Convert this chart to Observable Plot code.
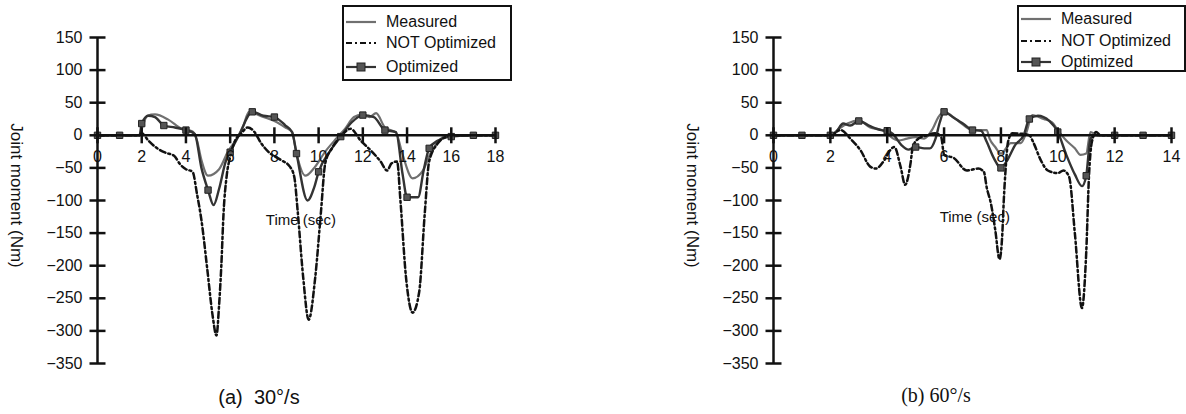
<!DOCTYPE html>
<html><head><meta charset="utf-8">
<script src="https://cdn.jsdelivr.net/npm/d3@7"></script>
<script src="https://cdn.jsdelivr.net/npm/@observablehq/plot@0.6"></script>
<style>
body{margin:0;background:#fff;width:1186px;height:414px;position:relative;overflow:hidden;font-family:"Liberation Sans",Arial,sans-serif;color:#111;}
.panel{position:absolute;top:0;}
.legend{position:absolute;border:2px solid #111;background:#fff;box-sizing:border-box;}
.legend .row{position:absolute;height:20px;display:flex;align-items:center;font-size:16px;color:#111;white-space:nowrap;}
.legend svg{position:absolute;}
.cap{position:absolute;font-size:20px;line-height:20px;color:#111;transform:translateX(-50%);white-space:nowrap;}
</style></head><body>
<div id="left" class="panel" style="left:0"></div>
<div id="right" class="panel" style="left:593px"></div>
<div id="legL" class="legend" style="left:342px;top:5px;width:170px;height:76px"></div>
<div id="legR" class="legend" style="left:1017px;top:5px;width:169px;height:67px"></div>
<div class="cap" style="left:259px;top:387px;font-family:'Liberation Sans',Arial,sans-serif">(a)&nbsp; 30°/s</div>
<div class="cap" style="left:936px;top:385px;font-family:'Liberation Serif','Times New Roman',serif">(b) 60°/s</div>
<script>
// ---------- data ----------
const yTicks = [150, 100, 50, 0, -50, -100, -150, -200, -250, -300, -350];
const leftXTicks = [0, 2, 4, 6, 8, 10, 12, 14, 16, 18];
const rightXTicks = [0, 2, 4, 6, 8, 10, 12, 14];
const seriesNames = ["Measured", "NOT Optimized", "Optimized"];

// (a) 30°/s  [time (s), joint moment (Nm)]
const leftMeasured = [[0,0],[1.9,0],[2.05,15],[2.25,30],[2.6,32],[3.2,24],[3.8,10],[4.3,6],[4.5,-8],[4.7,-38],[5.0,-62],[5.5,-52],[5.9,-25],[6.3,-5],[6.6,15],[6.85,36],[7.5,28],[8.0,22],[8.5,12],[8.8,5],[9.0,-28],[9.4,-62],[9.8,-50],[10.3,-25],[10.8,-5],[11.2,10],[11.6,28],[12.0,32],[12.3,28],[12.6,34],[13.0,12],[13.5,4],[13.8,-30],[14.25,-66],[14.7,-55],[15.1,-25],[15.5,-6],[15.9,0],[18,0]];
const leftNotOptimized = [[0,0],[1,0],[1.9,0],[2.0,3],[2.3,-8],[2.7,-20],[3.1,-27],[3.45,-31],[3.75,-45],[4.0,-52],[4.3,-56],[4.5,-90],[4.7,-130],[4.97,-207],[5.2,-275],[5.38,-307],[5.5,-260],[5.6,-200],[5.7,-120],[5.85,-60],[6.0,-33],[6.2,-10],[6.5,3],[6.8,12],[7.1,5],[7.4,-12],[7.75,-26],[8.3,-38],[8.7,-48],[8.9,-64],[9.05,-115],[9.3,-217],[9.55,-283],[9.85,-217],[10.1,-120],[10.3,-43],[10.6,-20],[11.0,-2],[11.45,10],[11.9,-8],[12.35,-23],[12.8,-40],[13.1,-54],[13.3,-43],[13.55,-40],[13.7,-100],[13.95,-217],[14.25,-272],[14.55,-240],[14.8,-120],[15.0,-40],[15.4,-12],[15.8,-2],[16.2,0],[18,0]];
const leftOptimized = [[0,0],[1,0],[1.9,0],[2,18],[2.3,30],[2.6,28],[3,15],[3.5,12],[4,8],[4.4,2],[4.7,-50],[5,-84],[5.25,-107],[5.5,-82],[5.8,-40],[6,-26],[6.4,0],[7,36],[7.5,30],[8,28],[8.5,15],[8.8,5],[9,-28],[9.5,-100],[9.8,-80],[10,-56],[10.5,-25],[11,-2],[11.5,20],[12,31],[12.5,28],[13,8],[13.5,5],[13.8,-60],[14,-95],[14.5,-95],[14.75,-54],[15,-20],[15.4,-8],[16,-2],[17,0],[18,0]];

// (b) 60°/s
const rightMeasured = [[0,0],[2,0],[2.3,10],[2.6,18],[3.0,23],[3.4,12],[3.8,8],[4.4,-8],[4.7,-5],[5.0,-3],[5.3,-5],[5.6,10],[5.8,28],[6.0,36],[6.5,22],[7.0,8],[7.5,8],[7.6,-5],[7.8,-18],[8.0,-28],[8.35,-12],[8.7,-12],[8.9,5],[9.1,31],[9.5,25],[9.8,20],[10.0,8],[10.3,-8],[10.6,-20],[10.8,-30],[11.0,-28],[11.15,5],[11.4,0],[14,0]];
const rightNotOptimized = [[0,0],[2.0,0],[2.36,8],[2.7,-5],[3.06,-23],[3.4,-48],[3.6,-51],[3.9,-38],[4.1,-23],[4.25,-18],[4.47,-48],[4.63,-76],[4.82,-43],[4.9,-18],[5.1,-5],[5.4,0],[5.7,3],[5.9,-3],[6.0,-30],[6.35,-35],[6.8,-54],[7.2,-51],[7.4,-56],[7.5,-80],[7.65,-105],[7.8,-145],[7.95,-190],[8.05,-150],[8.1,-100],[8.17,-49],[8.25,-10],[8.4,3],[8.8,2],[9.0,0],[9.15,-12],[9.4,-38],[9.65,-54],[10.0,-58],[10.2,-54],[10.4,-64],[10.6,-150],[10.85,-265],[11.0,-180],[11.1,-60],[11.2,-10],[11.35,5],[11.5,0],[14,0]];
const rightOptimized = [[0,0],[1,0],[2,0],[2.2,5],[2.45,18],[2.7,15],[3.0,22],[3.4,14],[3.8,8],[4.0,7],[4.2,2],[4.5,-15],[4.75,-22],[5.0,-18],[5.3,-20],[5.5,-20],[5.7,-5],[5.85,20],[6.0,36],[6.3,28],[6.7,17],[7.0,8],[7.3,7],[7.5,-10],[7.75,-35],[8.0,-50],[8.2,-40],[8.5,-15],[8.8,0],[9.0,25],[9.3,30],[9.7,22],[10.0,5],[10.3,-30],[10.6,-60],[10.85,-78],[11.0,-62],[11.15,-5],[11.3,0],[12,0],[13,0],[14,0]];

// ---------- styles ----------
const FONT = "'Liberation Sans', Arial, sans-serif";
const C_MEAS = "#707070", C_OPT = "#333", C_NOT = "#111";
const DASH = "6,3,2,3";
const fmt = d => d < 0 ? "\u2212" + Math.abs(d) : String(d);
// tick glyphs crossing the axis (pixel length, independent of scale)
const hTick = {draw(c) { c.moveTo(-8, 0); c.lineTo(8, 0); }};
const vTick = {draw(c) { c.moveTo(0, -8); c.lineTo(0, 8); }};

function panel({xMax, xTicks, measured, notOpt, opt, marginLeft, marginRight, timeAt}) {
  const X = d => d[0], Y = d => d[1];
  return Plot.plot({
    width: 593, height: 414,
    marginLeft, marginRight, marginTop: 37, marginBottom: 51,
    x: {domain: [0, xMax], axis: null},
    y: {domain: [-350, 150], axis: null},
    style: {fontFamily: FONT, fontSize: "16px", color: "#111", background: "transparent", overflow: "visible"},
    marks: [
      Plot.line(measured, {x: X, y: Y, stroke: C_MEAS, strokeWidth: 2.2, curve: "monotone-x"}),
      Plot.line(opt, {x: X, y: Y, stroke: C_OPT, strokeWidth: 2.4, curve: "monotone-x"}),
      Plot.line(notOpt, {x: X, y: Y, stroke: C_NOT, strokeWidth: 2.5, strokeDasharray: DASH, curve: "monotone-x"}),
      Plot.dot(opt.filter(d => Number.isInteger(d[0])), {x: X, y: Y, symbol: "square", r: 3.6, fill: "#555", stroke: "#222", strokeWidth: 1}),
      Plot.ruleX([0], {stroke: "#111", strokeWidth: 2.5}),
      Plot.ruleY([0], {stroke: "#111", strokeWidth: 2.5}),
      Plot.dot(yTicks, {x: 0, y: d => d, symbol: hTick, stroke: "#111", strokeWidth: 2.5, fill: "none"}),
      Plot.dot(xTicks, {x: d => d, y: 0, symbol: vTick, stroke: "#111", strokeWidth: 2.5, fill: "none"}),
      Plot.text(yTicks, {x: 0, y: d => d, dx: -15, textAnchor: "end", text: fmt, fontSize: 16}),
      Plot.text(xTicks, {x: d => d, y: 0, dy: 22, text: fmt, fontSize: 16}),
      Plot.text(["Joint moment (Nm)"], {frameAnchor: "left", dx: -81, dy: -5, rotate: 90, textAnchor: "middle", fontSize: 17}),
      Plot.text(["Time (sec)"], {x: timeAt[0], y: timeAt[1], fontSize: 15})
    ]
  });
}

document.getElementById("left").append(panel({
  xMax: 18, xTicks: leftXTicks, measured: leftMeasured, notOpt: leftNotOptimized, opt: leftOptimized,
  marginLeft: 97, marginRight: 98, timeAt: [9.2, -130]
}));
document.getElementById("right").append(panel({
  xMax: 14, xTicks: rightXTicks, measured: rightMeasured, notOpt: rightNotOptimized, opt: rightOptimized,
  marginLeft: 180, marginRight: 15, timeAt: [7.08, -125]
}));

// ---------- legends ----------
function swatch(name) {
  const ns = "http://www.w3.org/2000/svg";
  const s = document.createElementNS(ns, "svg");
  s.setAttribute("width", 32); s.setAttribute("height", 12);
  const l = document.createElementNS(ns, "line");
  l.setAttribute("x1", 1); l.setAttribute("x2", 31); l.setAttribute("y1", 6); l.setAttribute("y2", 6);
  l.setAttribute("stroke-width", 2.2);
  if (name === "Measured") l.setAttribute("stroke", C_MEAS);
  else if (name === "NOT Optimized") { l.setAttribute("stroke", C_NOT); l.setAttribute("stroke-dasharray", DASH); }
  else l.setAttribute("stroke", C_OPT);
  s.append(l);
  if (name === "Optimized") {
    const r = document.createElementNS(ns, "rect");
    r.setAttribute("x", 12); r.setAttribute("y", 2); r.setAttribute("width", 8); r.setAttribute("height", 8);
    r.setAttribute("fill", "#555"); r.setAttribute("stroke", "#222");
    s.append(r);
  }
  return s;
}
function legend(id, tops) {
  const box = document.getElementById(id);
  seriesNames.forEach((name, i) => {
    const sw = swatch(name);
    sw.style.left = "1px"; sw.style.top = (tops[i] + 4) + "px";
    box.append(sw);
    const row = document.createElement("div");
    row.className = "row"; row.style.left = "42px"; row.style.top = tops[i] + "px";
    row.textContent = name;
    box.append(row);
  });
}
legend("legL", [5, 26, 50]);
legend("legR", [2, 24, 45]);
</script>
</body></html>
